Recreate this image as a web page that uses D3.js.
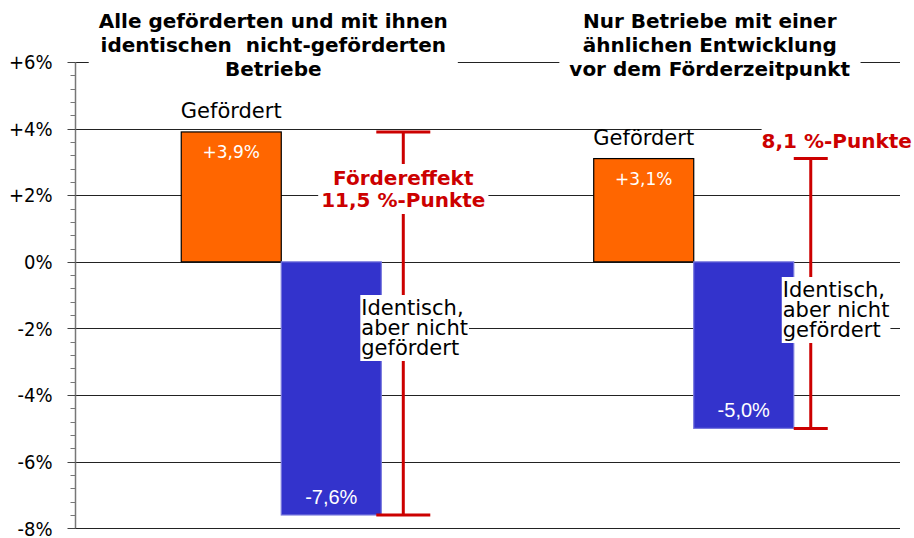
<!DOCTYPE html>
<html>
<head>
<meta charset="utf-8">
<script src="https://cdn.jsdelivr.net/npm/d3@7.9.0/dist/d3.min.js"></script>
<style>
  body { margin: 0; background: #fff; }
  svg { display: block; font-family: 'DejaVu Sans', sans-serif; }
</style>
</head>
<body>
<svg id="chart" width="914" height="538"></svg>
<script>
// Chart data
const groups = ['alle', 'aehnlich'];
const groupTitles = [
  ['Alle geförderten und mit ihnen', 'identischen \u00a0nicht-geförderten', 'Betriebe'],
  ['Nur Betriebe mit einer', 'ähnlichen Entwicklung', 'vor dem Förderzeitpunkt']
];
const seriesNames = ['Gefördert', 'Identisch, aber nicht gefördert'];
const gefoerdert = [3.9, 3.1];
const identisch = [-7.6, -5.0];
const gefoerdertLabels = ['+3,9%', '+3,1%'];
const identischLabels = ['-7,6%', '-5,0%'];
const effectLabels = [['Fördereffekt', '11,5 %-Punkte'], ['8,1 %-Punkte']];
const yTicks = [-8, -6, -4, -2, 0, 2, 4, 6];
const yTickLabels = ['-8%', '-6%', '-4%', '-2%', '0%', '+2%', '+4%', '+6%'];

const svg = d3.select('#chart');

// Scales
const y = d3.scaleLinear().domain([-8, 6]).range([528.3, 62]);
const x = d3.scaleBand().domain(groups).range([75, 900])
  .paddingInner(0.515).paddingOuter(0.2576);
const xSub = d3.scaleBand().domain(seriesNames).range([0, x.bandwidth()]);
const py = v => Math.round(y(v)) + 0.5;

// Gridlines
svg.append('g')
  .selectAll('line')
  .data(yTicks)
  .join('line')
  .attr('x1', 75).attr('x2', 900)
  .attr('y1', d => py(d))
  .attr('y2', d => py(d))
  .attr('stroke', '#222')
  .attr('stroke-width', 1);

// Y axis with minor ticks
const minor = svg.append('g').attr('transform', 'translate(75.5,0)');
minor.selectAll('line')
  .data(d3.range(0, 36).map(i => -8 + i * 0.4))
  .join('line')
  .attr('x1', -5).attr('x2', 0)
  .attr('y1', d => py(d)).attr('y2', d => py(d))
  .attr('stroke', '#777');
minor.append('line')
  .attr('x1', 0).attr('x2', 0)
  .attr('y1', y(6)).attr('y2', y(-8))
  .attr('stroke', '#777').attr('stroke-width', 1.5);

const major = svg.append('g').attr('transform', 'translate(75.5,0)');
major.selectAll('line')
  .data(yTicks)
  .join('line')
  .attr('x1', -8).attr('x2', 0)
  .attr('y1', d => py(d))
  .attr('y2', d => py(d))
  .attr('stroke', '#444');
major.selectAll('text')
  .data(yTicks)
  .join('text')
  .attr('x', -23)
  .attr('y', d => y(d))
  .attr('dy', '0.36em')
  .attr('text-anchor', 'end')
  .attr('font-family', 'DejaVu Sans Condensed, DejaVu Sans, sans-serif')
  .attr('font-size', 20)
  .attr('fill', '#000')
  .text((d, i) => yTickLabels[i]);

// Bars
const barData = groups.flatMap((g, i) => [
  { g, s: seriesNames[0], v: gefoerdert[i], label: gefoerdertLabels[i] },
  { g, s: seriesNames[1], v: identisch[i], label: identischLabels[i] }
]);
svg.append('g')
  .selectAll('rect')
  .data(barData)
  .join('rect')
  .attr('x', d => x(d.g) + xSub(d.s))
  .attr('width', xSub.bandwidth())
  .attr('y', d => y(Math.max(0, d.v)))
  .attr('height', d => Math.abs(y(d.v) - y(0)))
  .attr('fill', d => d.v > 0 ? '#ff6600' : '#3333cc')
  .attr('stroke', d => d.v > 0 ? '#000' : '#7777dd')
  .attr('stroke-width', 1.2);

// Value labels inside bars
svg.append('g')
  .selectAll('text')
  .data(barData)
  .join('text')
  .attr('x', d => x(d.g) + xSub(d.s) + xSub.bandwidth() / 2)
  .attr('y', d => d.v > 0 ? y(d.v) + 26 : y(d.v) - 11)
  .attr('text-anchor', 'middle')
  .attr('font-size', d => d.v > 0 ? 17 : 20)
  .attr('font-family', d => d.v > 0 ? null : 'Liberation Sans, Arial, sans-serif')
  .attr('fill', '#fff')
  .text(d => d.label);

// "Gefördert" labels above the orange bars
svg.append('g')
  .selectAll('text')
  .data(groups)
  .join('text')
  .attr('x', g => x(g) + xSub(seriesNames[0]) + xSub.bandwidth() / 2)
  .attr('y', (g, i) => y(gefoerdert[i]) - 14)
  .attr('text-anchor', 'middle')
  .attr('font-size', 21)
  .text(seriesNames[0]);

// Effect bars (difference between both series)
const capW = [54, 34];
const effX = groups.map((g, i) => x(g) + x.bandwidth() + [22, 17][i]);
const eff = svg.append('g').attr('stroke', '#cc0000').attr('stroke-width', 3);
groups.forEach((g, i) => {
  eff.append('line')
    .attr('x1', effX[i]).attr('x2', effX[i])
    .attr('y1', y(gefoerdert[i])).attr('y2', y(identisch[i]));
  [gefoerdert[i], identisch[i]].forEach(v => {
    eff.append('line')
      .attr('x1', effX[i] - capW[i] / 2).attr('x2', effX[i] + capW[i] / 2)
      .attr('y1', y(v)).attr('y2', y(v));
  });
});

// Helper: multi-line text with a white box behind it
function boxedText(lines, px, py0, opts) {
  const gEl = svg.append('g');
  const rect = gEl.append('rect').attr('fill', '#fff');
  const t = gEl.append('text')
    .attr('x', px).attr('y', py0)
    .attr('text-anchor', opts.anchor || 'start')
    .attr('font-size', opts.size || 20)
    .attr('font-weight', opts.weight || 'normal')
    .attr('fill', opts.color || '#000');
  lines.forEach((l, i) => {
    t.append('tspan').attr('x', px).attr('dy', i === 0 ? 0 : opts.lh).text(l);
  });
  const b = t.node().getBBox();
  const pad = opts.pad || [0, 0];
  rect.attr('x', b.x - pad[0]).attr('y', b.y - pad[1])
    .attr('width', b.width + pad[0] * 2).attr('height', b.height + pad[1] * 2);
}

// Group titles
boxedText(groupTitles[0], x(groups[0]) + x.bandwidth() / 2 - 8, 28, { anchor: 'middle', weight: 'bold', lh: 24, pad: [10, 2] });
boxedText(groupTitles[1], x(groups[1]) + x.bandwidth() / 2 + 16, 28, { anchor: 'middle', weight: 'bold', lh: 24, pad: [10, 2] });

// Effect labels
boxedText(effectLabels[0], effX[0], 185, { anchor: 'middle', weight: 'bold', color: '#cc0000', lh: 22, pad: [3, 2] });
boxedText(effectLabels[1], effX[1] + 26, 148, { anchor: 'middle', weight: 'bold', color: '#cc0000', lh: 22, pad: [0, 0] });

// "Identisch, aber nicht gefördert" labels
const idLines = ['Identisch,', 'aber nicht', 'gefördert'];
boxedText(idLines, effX[0] - 42, 315, { size: 21, lh: 20, pad: [1, 1] });
boxedText(idLines, effX[1] - 28, 297, { size: 21, lh: 20, pad: [1, 1] });
</script>
</body>
</html>
